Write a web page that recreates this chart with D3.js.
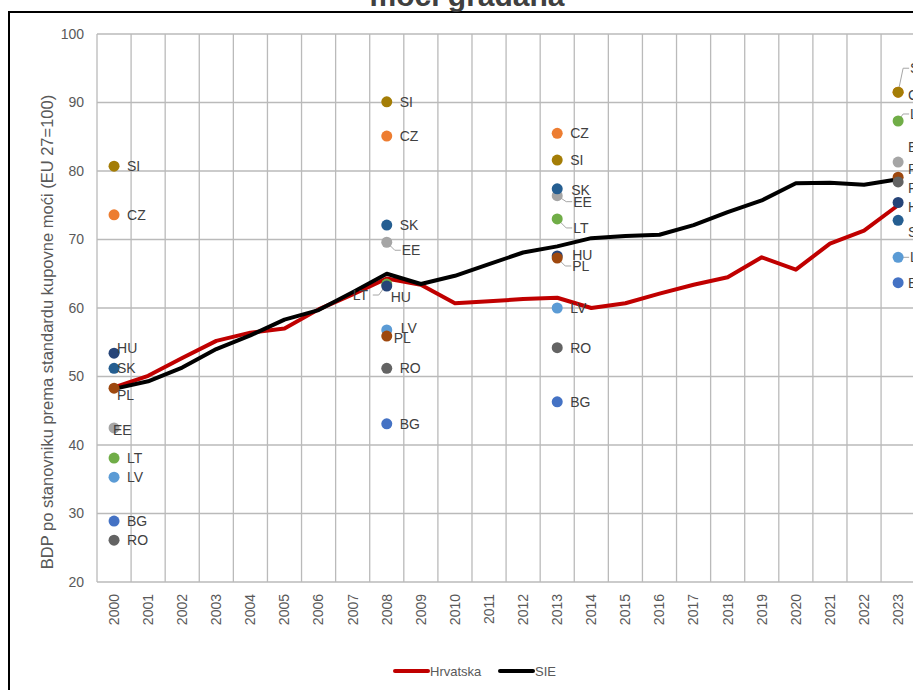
<!DOCTYPE html>
<html>
<head>
<meta charset="utf-8">
<script src="https://cdn.jsdelivr.net/npm/d3@7/dist/d3.min.js"></script>
<style>
  html, body { margin: 0; padding: 0; background: #fff; overflow: hidden; }
  svg { display: block; font-family: "Liberation Sans", Arial, sans-serif; }
</style>
</head>
<body>
<div id="chart"></div>
<script>
// data
var years = d3.range(2000, 2024).map(String);
var hrvatska = [48.4, 50.1, 52.7, 55.2, 56.4, 57.0, 59.8, 62.0, 64.3, 63.4, 60.7, 61.0, 61.3, 61.5, 60.0, 60.7, 62.1, 63.4, 64.5, 67.4, 65.6, 69.4, 71.3, 75.0];
var sie = [48.2, 49.3, 51.3, 54.0, 56.0, 58.3, 59.7, 62.3, 65.0, 63.5, 64.7, 66.4, 68.1, 69.0, 70.2, 70.5, 70.7, 72.1, 74.0, 75.7, 78.2, 78.3, 78.0, 78.8];

var pointYears = ["2000", "2008", "2013", "2023"];
// countries in drawing order
var countries = ["EE", "LT", "LV", "CZ", "SI", "SK", "HU", "PL", "RO", "BG"];
var eeVals = [42.5, 69.6, 76.4, 81.3];
var ltVals = [38.1, 63.5, 73.0, 87.3];
var lvVals = [35.3, 56.8, 60.0, 67.4];
var czVals = [73.6, 85.1, 85.5, 91.5];
var siVals = [80.7, 90.1, 81.6, 91.5];
var skVals = [51.2, 72.1, 77.4, 72.8];
var huVals = [53.4, 63.2, 67.6, 75.4];
var plVals = [48.3, 55.9, 67.3, 79.1];
var roVals = [26.1, 51.2, 54.2, 78.4];
var bgVals = [28.9, 43.1, 46.3, 63.7];
var countryVals = [eeVals, ltVals, lvVals, czVals, siVals, skVals, huVals, plVals, roVals, bgVals];

var yTicks = [20, 30, 40, 50, 60, 70, 80, 90, 100];

var colors = {
  EE: "#a5a5a5", LT: "#70ad47", LV: "#5b9bd5", CZ: "#ed7d31", SI: "#a47d06",
  SK: "#255e91", HU: "#264478", PL: "#9e480e", RO: "#636363", BG: "#4472c4"
};

// label nudges [dx, dy, leader] where labels crowd
var nudge = {
  "2000-HU": [3, -5], "2000-SK": [3, 0], "2000-PL": [3, 7], "2000-EE": [-1, 2],
  "2008-EE": [15, 8, 1], "2008-HU": [4, 11], "2008-LT": [-34, 11, 1],
  "2008-LV": [14, -2], "2008-PL": [7, 2],
  "2013-SK": [14, 1], "2013-EE": [16, 6, 1], "2013-LT": [16, 9, 1],
  "2013-HU": [15, -1], "2013-PL": [15, 8, 1],
  "2023-SI": [12, -24, 1], "2023-CZ": [10, 3], "2023-LT": [12, -7, 1], "2023-EE": [10, -15],
  "2023-PL": [10, -8], "2023-RO": [10, 6], "2023-HU": [10, 5], "2023-SK": [10, 12],
  "2023-LV": [12, 0, 1], "2023-BG": [10, 0]
};

var W = 913, H = 690;
var plot = { left: 97, top: 34, bottom: 582 };
var svg = d3.select("#chart").append("svg").attr("width", W).attr("height", H);

// outer frame
svg.append("rect").attr("x", 9).attr("y", 12).attr("width", 960).attr("height", 760)
  .attr("fill", "none").attr("stroke", "#000").attr("stroke-width", 2);

// title (only its lower part is in the picture)
svg.append("text").attr("x", 467).attr("y", 6).attr("text-anchor", "middle")
  .attr("font-size", "30px").attr("font-weight", "bold").attr("fill", "#404040")
  .text("moći građana");

var x = d3.scaleBand().domain(years).range([plot.left, plot.left + 24 * 34.09]).padding(0);
var y = d3.scaleLinear().domain([20, 100]).range([plot.bottom, plot.top]);
var cx = function(yr) { return x(yr) + x.bandwidth() / 2; };

// grid
var grid = svg.append("g").attr("stroke", "#bababa").attr("stroke-width", 1.3);
grid.selectAll("line.h").data(yTicks).enter().append("line")
  .attr("x1", plot.left).attr("x2", W + 5)
  .attr("y1", function(d) { return y(d); }).attr("y2", function(d) { return y(d); });
grid.selectAll("line.v").data(years.concat(["end"])).enter().append("line")
  .attr("x1", function(d, i) { return plot.left + i * x.bandwidth(); })
  .attr("x2", function(d, i) { return plot.left + i * x.bandwidth(); })
  .attr("y1", plot.top).attr("y2", plot.bottom);

// axes
var yAxis = svg.append("g").attr("transform", "translate(" + plot.left + ",0)")
  .call(d3.axisLeft(y).tickValues(yTicks).tickSize(0).tickPadding(13));
yAxis.select(".domain").remove();
yAxis.selectAll("text").attr("font-size", "14px").attr("fill", "#595959")
  .attr("font-family", "Liberation Sans, Arial, sans-serif");

var xAxis = svg.append("g").attr("transform", "translate(0," + plot.bottom + ")")
  .call(d3.axisBottom(x).tickSize(0));
xAxis.select(".domain").remove();
xAxis.selectAll("text")
  .attr("font-size", "14px").attr("fill", "#595959")
  .attr("font-family", "Liberation Sans, Arial, sans-serif")
  .attr("transform", "rotate(-90)")
  .attr("text-anchor", "end").attr("x", -12).attr("y", 0).attr("dy", "0.35em");

// y axis title
svg.append("text")
  .attr("transform", "translate(53,332) rotate(-90)")
  .attr("text-anchor", "middle").attr("font-size", "16.5px").attr("fill", "#595959")
  .text("BDP po stanovniku prema standardu kupovne moći (EU 27=100)");

// lines
var line = d3.line().x(function(d, i) { return cx(years[i]); }).y(function(d) { return y(d); });
svg.append("path").datum(hrvatska).attr("d", line)
  .attr("fill", "none").attr("stroke", "#c00000").attr("stroke-width", 4).attr("stroke-linejoin", "round");
svg.append("path").datum(sie).attr("d", line)
  .attr("fill", "none").attr("stroke", "#000").attr("stroke-width", 4).attr("stroke-linejoin", "round");

// points + labels
var pts = [];
countries.forEach(function(c, ci) {
  pointYears.forEach(function(yr, yi) {
    pts.push({ c: c, yr: yr, v: countryVals[ci][yi] });
  });
});
pts.forEach(function(p) {
  var n = nudge[p.yr + "-" + p.c] || [13, 0];
  p.px = cx(p.yr); p.py = y(p.v);
  p.lx = p.px + n[0]; p.ly = p.py + n[1]; p.leader = !!n[2];
});

var leaders = svg.append("g").attr("fill", "none").attr("stroke", "#a6a6a6").attr("stroke-width", 1);
leaders.selectAll("path").data(pts.filter(function(p) { return p.leader; })).enter().append("path")
  .attr("d", function(p) {
    if (p.lx < p.px) {
      var e = p.lx + 19;
      return "M" + p.px + "," + p.py + "L" + (e + 7) + "," + p.ly + "L" + (e + 1) + "," + p.ly;
    }
    return "M" + p.px + "," + p.py + "L" + (p.lx - 7) + "," + p.ly + "L" + (p.lx - 1) + "," + p.ly;
  });

svg.append("g").selectAll("circle").data(pts).enter().append("circle")
  .attr("cx", function(p) { return p.px; }).attr("cy", function(p) { return p.py; })
  .attr("r", 5.5).attr("fill", function(p) { return colors[p.c]; });

svg.append("g").selectAll("text").data(pts).enter().append("text")
  .attr("x", function(p) { return p.lx; }).attr("y", function(p) { return p.ly; })
  .attr("dy", "0.35em").attr("font-size", "14px").attr("fill", "#404040")
  .text(function(p) { return p.c; });

// legend
var legend = svg.append("g").attr("transform", "translate(395,671)");
var items = [["Hrvatska", "#c00000"], ["SIE", "#000"]];
items.forEach(function(it, i) {
  var g = legend.append("g").attr("transform", "translate(" + (i * 105) + ",0)");
  g.append("line").attr("x1", 0).attr("x2", 33).attr("stroke", it[1]).attr("stroke-width", 4).attr("stroke-linecap", "round");
  g.append("text").attr("x", 35).attr("dy", "0.35em").attr("font-size", "13px").attr("fill", "#595959").text(it[0]);
});
</script>
</body>
</html>
